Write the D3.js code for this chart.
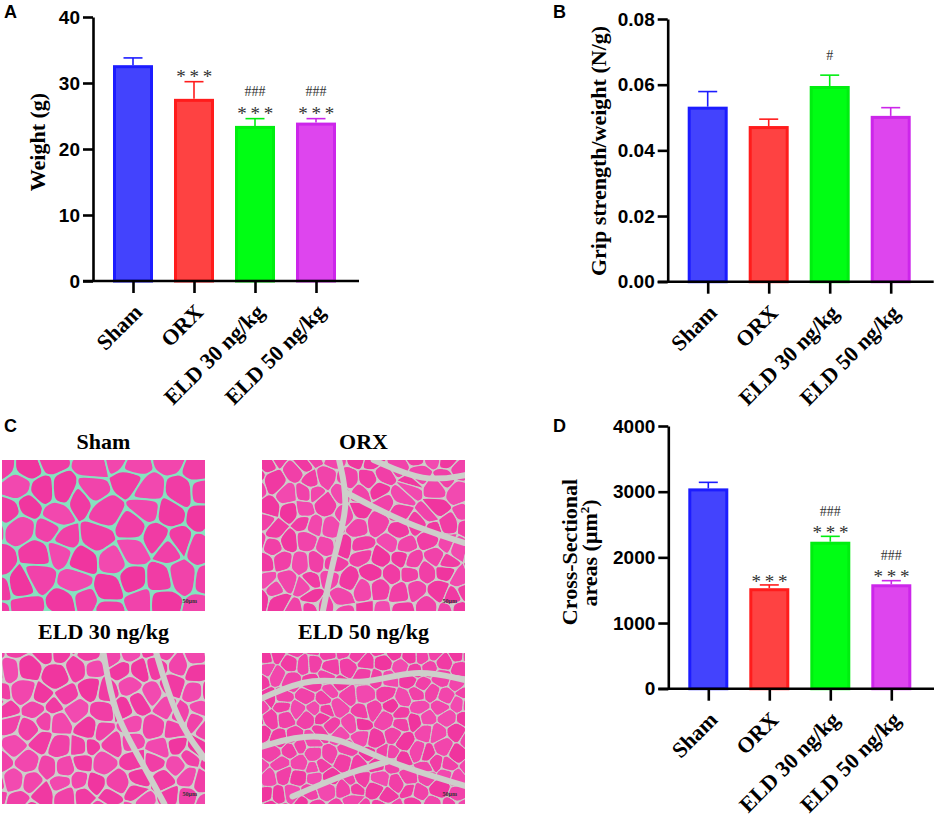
<!DOCTYPE html>
<html>
<head>
<meta charset="utf-8">
<script src="https://cdn.jsdelivr.net/npm/d3@7"></script>
<style>
  body { margin: 0; background: #fff; }
  svg { display: block; }
</style>
</head>
<body>
<svg id="fig" width="934" height="819"></svg>
<script>
// groups shared by every bar panel
const groups = ['Sham', 'ORX', 'ELD 30 ng/kg', 'ELD 50 ng/kg'];
const fillColors = ['#4343fd', '#fe4242', '#00fe14', '#de45ee'];
const edgeColors = ['#1c1cff', '#ff1c1c', '#00ee10', '#cc26ea'];

// A - body weight (g)
const weightMean = [32.7, 27.6, 23.5, 24.0];
const weightErr = [1.1, 2.6, 1.1, 0.6];
const weightStars = ['', '* * *', '* * *', '* * *'];
const weightHash = ['', '', '###', '###'];
const weightTicks = [0, 10, 20, 30, 40];

// B - grip strength / weight (N/g)
const gripMean = [0.0533, 0.0474, 0.0596, 0.0505];
const gripErr = [0.0046, 0.0021, 0.0033, 0.0025];
const gripStars = ['', '', '', ''];
const gripHash = ['', '', '#', ''];
const gripTicks = [0, 0.02, 0.04, 0.06, 0.08];

// D - cross-sectional area (um2)
const csaMean = [3050, 1530, 2238, 1590];
const csaErr = [92, 50, 82, 55];
const csaStars = ['', '* * *', '* * *', '* * *'];
const csaHash = ['', '', '###', '###'];
const csaTicks = [0, 1000, 2000, 3000, 4000];

// C - H&E section titles
const sectionTitles = ['Sham', 'ORX', 'ELD 30 ng/kg', 'ELD 50 ng/kg'];

const SANS = '"Liberation Sans", Arial, sans-serif';
const SERIF = '"Liberation Serif", "Times New Roman", serif';

const svg = d3.select('#fig');
svg.append('rect').attr('width', 934).attr('height', 819).attr('fill', '#fff');

function panelLetter(t, x, y) {
  svg.append('text')
    .attr('x', x).attr('y', y)
    .style('font-family', SANS).style('font-weight', 700).style('font-size', '18px')
    .text(t);
}

function barPanel(cfg) {
  const g = svg.append('g');
  const y = d3.scaleLinear().domain([0, cfg.max]).range([cfg.bottom, cfg.top]);
  const x = d3.scalePoint().domain(groups).range([cfg.left + 40, cfg.left + 40 + 183]);
  const barW = 40;

  // bars
  groups.forEach((grp, i) => {
    const cx = x(grp);
    const yTop = y(cfg.mean[i]);
    const yErr = y(cfg.mean[i] + cfg.err[i]);

    // error bar (upper only)
    g.append('line')
      .attr('x1', cx).attr('x2', cx).attr('y1', yTop).attr('y2', yErr)
      .style('stroke', edgeColors[i]).style('stroke-width', 1.6);
    g.append('line')
      .attr('x1', cx - 9.5).attr('x2', cx + 9.5).attr('y1', yErr).attr('y2', yErr)
      .style('stroke', edgeColors[i]).style('stroke-width', 1.6);

    g.append('rect')
      .attr('x', cx - barW / 2 + 1.5).attr('y', yTop + 1.5)
      .attr('width', barW - 3).attr('height', cfg.bottom - yTop - 1.5)
      .style('fill', fillColors[i])
      .style('stroke', edgeColors[i]).style('stroke-width', 3);

    // significance marks
    const starY = yErr - cfg.starGap;
    if (cfg.stars[i]) {
      g.append('text')
        .attr('x', cx).attr('y', starY).attr('dy', '0.62em')
        .attr('text-anchor', 'middle')
        .style('font-family', SERIF).style('font-size', '19px').style('fill', '#333')
        .style('letter-spacing', '-0.5px')
        .text(cfg.stars[i]);
    }
    if (cfg.hash[i]) {
      const hy = cfg.stars[i] ? starY - cfg.hashGap : yErr - cfg.loneHashGap;
      g.append('text')
        .attr('x', cx).attr('y', hy).attr('dy', '0.35em')
        .attr('text-anchor', 'middle')
        .style('font-family', SERIF).style('font-size', '14px').style('fill', '#333')
        .text(cfg.hash[i]);
    }
  });

  // y axis
  const ya = g.append('g')
    .attr('transform', `translate(${cfg.left},0)`)
    .call(d3.axisLeft(y).tickValues(cfg.ticks).tickFormat(cfg.fmt).tickSize(10).tickSizeOuter(0).tickPadding(3));
  ya.selectAll('.domain, .tick line').style('stroke', '#000').style('stroke-width', 2.6);
  ya.selectAll('text')
    .style('font-family', SANS).style('font-weight', 700).style('font-size', '19px').style('fill', '#000');

  // x axis
  g.append('line')
    .attr('x1', cfg.left - 10).attr('x2', cfg.left + 266)
    .attr('y1', cfg.bottom).attr('y2', cfg.bottom)
    .style('stroke', '#000').style('stroke-width', 2.6);
  const xa = g.append('g')
    .attr('transform', `translate(0,${cfg.bottom})`)
    .call(d3.axisBottom(x).tickSize(12).tickSizeOuter(0).tickFormat(''));
  xa.select('.domain').remove();
  xa.selectAll('.tick line').style('stroke', '#000').style('stroke-width', 2.6);

  groups.forEach(grp => {
    const ax = x(grp) + 5, ay = cfg.bottom + 27;
    g.append('text')
      .attr('transform', `translate(${ax},${ay}) rotate(-45)`)
      .attr('text-anchor', 'end').attr('dy', '0.35em')
      .style('font-family', SERIF).style('font-weight', 700).style('font-size', '22px')
      .text(grp);
  });

  // y title
  cfg.titles.forEach(t => {
    const tt = g.append('text')
      .attr('transform', `translate(${t.x},${t.y}) rotate(-90)`)
      .attr('text-anchor', 'middle')
      .style('font-family', SERIF).style('font-weight', 700).style('font-size', '22px');
    if (t.sup) {
      tt.append('tspan').text(t.text);
      tt.append('tspan').attr('dy', -8).style('font-size', '13px').text(t.sup);
      tt.append('tspan').attr('dy', 8).text(t.after);
    } else {
      tt.text(t.text);
    }
  });
}

barPanel({
  left: 93, top: 17, bottom: 281, max: 40, ticks: weightTicks, fmt: d3.format('d'),
  mean: weightMean, err: weightErr, stars: weightStars, hash: weightHash,
  starGap: 10, hashGap: 17.5, loneHashGap: 20,
  titles: [{ text: 'Weight (g)', x: 45, y: 142 }]
});

barPanel({
  left: 667.7, top: 19, bottom: 281.7, max: 0.08, ticks: gripTicks, fmt: d3.format('.2f'),
  mean: gripMean, err: gripErr, stars: gripStars, hash: gripHash,
  starGap: 10, hashGap: 17.5, loneHashGap: 20,
  titles: [{ text: 'Grip strength/weight (N/g)', x: 606, y: 151 }]
});

barPanel({
  left: 668.3, top: 426, bottom: 688.7, max: 4000, ticks: csaTicks, fmt: d3.format('d'),
  mean: csaMean, err: csaErr, stars: csaStars, hash: csaHash,
  starGap: 9, hashGap: 16.5, loneHashGap: 20,
  titles: [
    { text: 'Cross-Sectional', x: 577, y: 552 },
    { text: 'areas (μm', sup: '2', after: ')', x: 597, y: 553 }
  ]
});

panelLetter('A', 4, 18);
panelLetter('B', 553, 18);
panelLetter('C', 4, 432);
panelLetter('D', 553, 432);

// ---- C: stylised H&E muscle sections ----
function hash(i, j, s) {
  const v = Math.sin(i * 127.1 + j * 311.7 + s * 74.7) * 43758.5453;
  return v - Math.floor(v);
}

const tissue = [
  { cell: 28, gap: '#86e2bf', gapW: 1.8, seed: 1, streaks: [] },
  { cell: 19, gap: '#cdcfca', gapW: 1.1, seed: 2, streaks: [
    [[0.38, 0], [0.43, 0.3], [0.36, 0.6], [0.3, 1]],
    [[0.42, 0.22], [0.7, 0.42], [1, 0.55]],
    [[0.55, 0], [0.8, 0.15], [1, 0.1]]
  ] },
  { cell: 21, gap: '#cdcfca', gapW: 1.5, seed: 3, streaks: [
    [[0.5, 0], [0.55, 0.4], [0.68, 0.7], [0.8, 1]],
    [[0.76, 0], [0.86, 0.45], [1, 0.7]]
  ] },
  { cell: 16, gap: '#cdcfca', gapW: 1, seed: 4, streaks: [
    [[0, 0.3], [0.25, 0.15], [0.5, 0.22], [0.75, 0.1], [1, 0.18]],
    [[0, 0.62], [0.3, 0.5], [0.6, 0.72], [1, 0.88]],
    [[0.15, 0.95], [0.45, 0.78], [0.62, 0.72]]
  ] }
];

const imgW = 203, imgH = 151;
const imgX = [2, 262], imgY = [460, 653];
const titleY = [449, 639];
const defs = svg.append('defs');

// cut each corner so the closed B-spline keeps straight walls but rounds the corners
function cornerCut(poly) {
  const out = [];
  for (let i = 0; i < poly.length; i++) {
    const a = poly[i], b = poly[(i + 1) % poly.length];
    out.push([a[0] + (b[0] - a[0]) * 0.15, a[1] + (b[1] - a[1]) * 0.15]);
    out.push([a[0] + (b[0] - a[0]) * 0.85, a[1] + (b[1] - a[1]) * 0.85]);
  }
  return out;
}

sectionTitles.forEach((title, k) => {
  const col = k % 2, row = Math.floor(k / 2);
  const ox = imgX[col], oy = imgY[row];
  const t = tissue[k];

  svg.append('text')
    .attr('x', ox + imgW / 2).attr('y', titleY[row])
    .attr('text-anchor', 'middle')
    .style('font-family', SERIF).style('font-weight', 700).style('font-size', '22px')
    .text(title);

  defs.append('clipPath').attr('id', 'clip' + k)
    .append('rect').attr('width', imgW).attr('height', imgH);

  const g = svg.append('g')
    .attr('transform', `translate(${ox},${oy})`)
    .attr('clip-path', `url(#clip${k})`);

  g.append('rect').attr('width', imgW).attr('height', imgH).attr('fill', t.gap);

  const pts = [];
  const nx = Math.ceil(imgW / t.cell) + 2, ny = Math.ceil(imgH / t.cell) + 2;
  for (let i = -1; i < nx; i++) {
    for (let j = -1; j < ny; j++) {
      const off = (j % 2) * t.cell * 0.5;
      pts.push([
        i * t.cell + off + (hash(i, j, t.seed) - 0.5) * t.cell * 0.75,
        j * t.cell * 0.87 + (hash(j, i, t.seed + 9) - 0.5) * t.cell * 0.7
      ]);
    }
  }
  const vor = d3.Delaunay.from(pts).voronoi([-30, -30, imgW + 30, imgH + 30]);
  const pink = d3.interpolateRgb('#f0349e', '#f24ab0');
  const cellLine = d3.line().curve(d3.curveBasisClosed);
  pts.forEach((p, i) => {
    const poly = vor.cellPolygon(i);
    if (!poly) return;
    poly.pop();
    g.append('path')
      .attr('d', cellLine(cornerCut(poly)))
      .attr('fill', pink(hash(i, 3, t.seed)))
      .attr('stroke', t.gap).attr('stroke-width', t.gapW);
  });

  const line = d3.line().curve(d3.curveBasis).x(d => d[0] * imgW).y(d => d[1] * imgH);
  t.streaks.forEach(s => {
    g.append('path').attr('d', line(s))
      .attr('fill', 'none').attr('stroke', t.gap).attr('stroke-width', 6)
      .attr('stroke-linecap', 'round');
  });

  g.append('text')
    .attr('x', imgW - 8).attr('y', imgH - 8)
    .attr('text-anchor', 'end')
    .style('font-family', SERIF).style('font-weight', 700).style('font-size', '6px').style('fill', '#333')
    .text('50μm');
});
</script>
</body>
</html>
